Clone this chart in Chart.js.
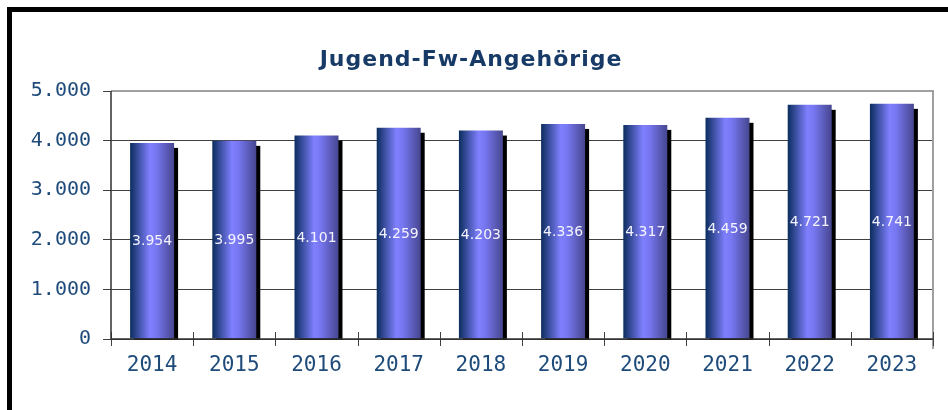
<!DOCTYPE html>
<html><head><meta charset="utf-8">
<script src="https://cdn.jsdelivr.net/npm/chart.js@4/dist/chart.umd.min.js"></script>
<style>html,body{margin:0;padding:0;background:#fff}#wrap{width:948px;height:410px;position:relative}</style>
</head><body><div id="wrap"><canvas id="c" width="948" height="410"></canvas></div>
<script>
const title = 'Jugend-Fw-Angehörige';
const categories = ['2014','2015','2016','2017','2018','2019','2020','2021','2022','2023'];
const values = [3954, 3995, 4101, 4259, 4203, 4336, 4317, 4459, 4721, 4741];
const yTicks = [0, 1000, 2000, 3000, 4000, 5000];

const fmt = v => { const s = String(Math.round(v)); return s.length > 3 ? s.slice(0, -3) + '.' + s.slice(-3) : s; };
const BAR_PCT = 0.535;
const tickColor = '#1f4b7a';

function barGradient(ctx) {
  const chart = ctx.chart, xs = chart.scales.x;
  if (!xs || !chart.chartArea) return '#7070e0';
  const cx = xs.getPixelForValue(ctx.dataIndex);
  const half = xs.width / categories.length * BAR_PCT / 2;
  const g = chart.ctx.createLinearGradient(cx - half, 0, cx + half, 0);
  g.addColorStop(0, '#0b2d5e');
  g.addColorStop(0.45, '#8080ff');
  g.addColorStop(0.6, '#7676f0');
  g.addColorStop(1, '#46468e');
  return g;
}

const decor = {
  id: 'decor',
  beforeDraw(chart) {
    const c = chart.ctx;
    c.save();
    c.fillStyle = '#fff'; c.fillRect(0, 0, chart.width, chart.height);
    c.fillStyle = '#000';
    c.fillRect(7, 7, chart.width - 7, 5);
    c.fillRect(7, 7, 5, chart.height - 7);
    c.restore();
  },
  beforeDatasetsDraw(chart) {
    const c = chart.ctx, a = chart.chartArea;
    c.save();
    c.beginPath(); c.rect(a.left, a.top, a.right - a.left, a.bottom - a.top + 1); c.clip();
    c.fillStyle = '#000';
    chart.getDatasetMeta(0).data.forEach(el => {
      const w = el.width;
      c.fillRect(el.x - w / 2 + 4, el.y + 5, w, el.base - el.y);
    });
    c.restore();
  },
  afterDatasetsDraw(chart) {
    const c = chart.ctx, a = chart.chartArea;
    c.save();
    c.fillStyle = '#f4f4ff';
    c.font = '14px "DejaVu Sans"';
    c.textAlign = 'center'; c.textBaseline = 'middle';
    chart.getDatasetMeta(0).data.forEach((el, i) => {
      c.fillText(fmt(values[i]), el.x, (el.y + el.base) / 2 + 1);
    });
    // plot frame top/right gray
    c.strokeStyle = '#a0a0a0'; c.lineWidth = 2;
    c.beginPath();
    c.moveTo(a.left, a.top); c.lineTo(a.right, a.top); c.lineTo(a.right, a.bottom + 10);
    c.stroke();
    // x tick marks crossing the axis
    const xs = chart.scales.x;
    const cw = xs.width / categories.length;
    c.strokeStyle = '#404040'; c.lineWidth = 1;
    for (let i = 0; i <= categories.length; i++) {
      const x = Math.round(xs.left + i * cw) + 0.5;
      c.beginPath(); c.moveTo(x, a.bottom - 7); c.lineTo(x, a.bottom + 7); c.stroke();
    }
    // axis lines
    c.strokeStyle = '#303030'; c.lineWidth = 1.5;
    c.beginPath(); c.moveTo(a.left, a.top); c.lineTo(a.left, a.bottom); c.lineTo(a.right, a.bottom); c.stroke();
    // title
    c.fillStyle = '#173a66';
    c.font = 'bold 22px "DejaVu Sans"';
    try { c.letterSpacing = '1px'; } catch (e) {}
    c.textAlign = 'center'; c.textBaseline = 'alphabetic';
    c.fillText(title, 471, 66);
    c.restore();
  }
};

new Chart(document.getElementById('c'), {
  type: 'bar',
  data: { labels: categories, datasets: [{ data: values, backgroundColor: barGradient, borderWidth: 0, barPercentage: BAR_PCT, categoryPercentage: 1 }] },
  options: {
    responsive: false, animation: false, devicePixelRatio: 1,
    layout: { padding: { top: 91, right: 15, left: 0, bottom: 0 } },
    plugins: { legend: { display: false }, tooltip: { enabled: false }, title: { display: false } },
    scales: {
      x: {
        offset: true,
        grid: { display: false },
        border: { display: false },
        ticks: { color: tickColor, font: { family: '"DejaVu Sans Mono"', size: 21 }, padding: 6, maxRotation: 0 },
        afterFit: s => { s.height = 71; }
      },
      y: {
        min: 0, max: 5000,
        afterBuildTicks: s => { s.ticks = yTicks.map(v => ({ value: v })); },
        grid: { color: '#404040', lineWidth: 1, tickLength: 8, drawTicks: true },
        border: { display: false },
        ticks: { color: tickColor, font: { family: '"DejaVu Sans Mono"', size: 20 }, padding: 12, callback: v => fmt(v) },
        afterFit: s => { s.width = 111; }
      }
    }
  },
  plugins: [decor]
});
</script></body></html>
